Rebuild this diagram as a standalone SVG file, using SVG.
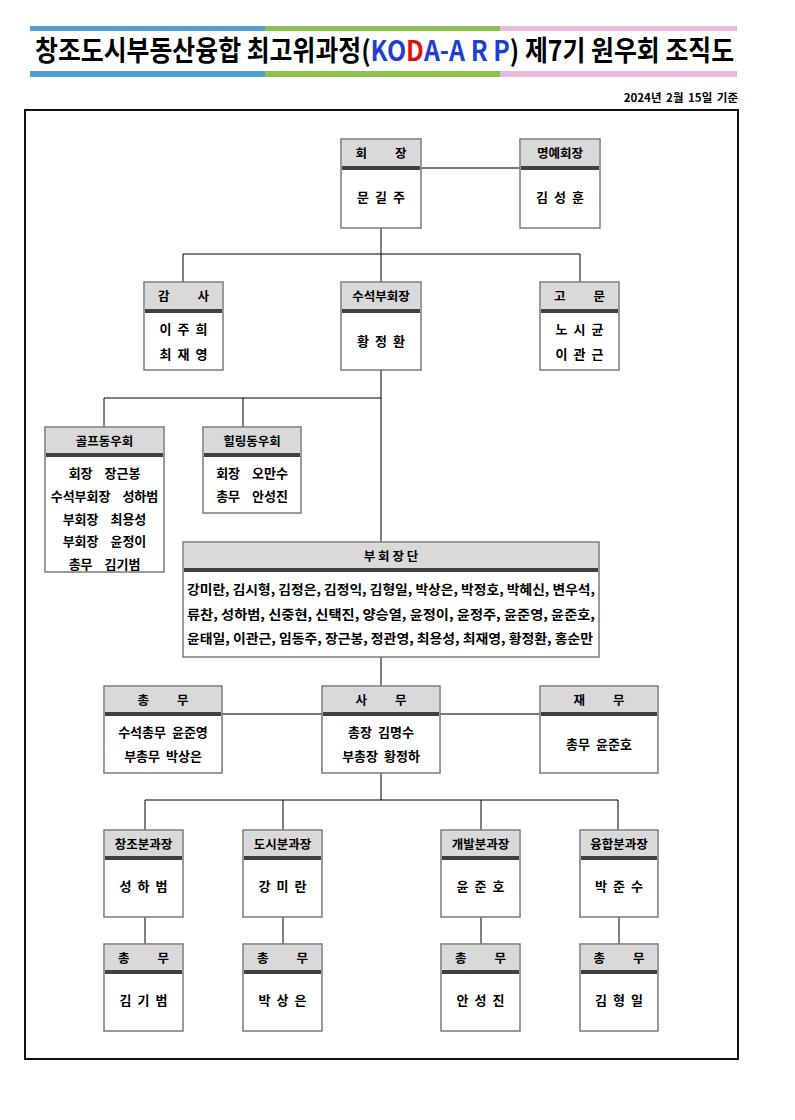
<svg xmlns="http://www.w3.org/2000/svg" width="795" height="1120" viewBox="0 0 795 1120">
<style>
text{font-family:"Noto Sans CJK KR","Noto Sans",sans-serif;font-weight:700;fill:#000}
.hd{fill:#d9d9d9;stroke:none}
.band{fill:#404040}
.box{fill:#fff;stroke:#7a7a7a;stroke-width:1.5}
.ht{font-size:12.5px;text-anchor:middle}
.bt{font-size:13px;text-anchor:middle;word-spacing:3px}
.c{stroke:#000;stroke-width:1;fill:none}
.cg{stroke:#7a7a7a;stroke-width:2;fill:none}
.bl{fill:#1f3fd0}
.rd{fill:#e01010}
</style>
<rect width="795" height="1120" fill="#fff"/>
<g id="title">
<rect x="30" y="26" width="235" height="5" fill="#4f9fd6"/>
<rect x="265" y="26" width="235" height="5" fill="#8cc152"/>
<rect x="500" y="26" width="237" height="5" fill="#e8b9dc"/>
<rect x="30" y="71" width="235" height="6" fill="#4f9fd6"/>
<rect x="265" y="71" width="235" height="6" fill="#8cc152"/>
<rect x="500" y="71" width="237" height="6" fill="#e8b9dc"/>
<text transform="translate(35 61) scale(0.889 1)" x="0" y="0" font-size="28">창조도시부동산융합 최고위과정(<tspan class="bl">KO</tspan><tspan class="rd">D</tspan><tspan class="bl">A-A R P</tspan>) 제7기 원우회 조직도</text>
<text x="738" y="102" font-size="11.5" text-anchor="end" word-spacing="2">2024년 2월 15일 기준</text>
</g>
<rect id="frame" x="25" y="110" width="713" height="949" fill="none" stroke="#111" stroke-width="2"/>
<g id="connectors">
<line class="cg" x1="421" y1="168" x2="520" y2="168"/>
<path class="c" d="M381 228V254M183 254H580M183 254V282M381 254V282M580 254V282"/>
<path class="c" d="M381 370V542M104 398H381M104 398V427M243 398V427"/>
<path class="c" d="M381 657V686"/>
<line class="cg" x1="222" y1="714" x2="322" y2="714"/>
<line class="cg" x1="440" y1="714" x2="540" y2="714"/>
<path class="c" d="M381 773V800M145 800H618M145 800V830M283 800V830M481 800V830M618 800V830"/>
<path class="c" d="M145 917V944M283 917V944M481 917V944M619 917V944"/>
</g>
<g id="n-chair">
<rect class="box" x="341" y="139" width="80" height="89"/><rect class="hd" x="342" y="140" width="78" height="26"/><rect class="band" x="342" y="166" width="78" height="4"/>
<text class="ht" x="381" y="158">회　　 장</text><text class="bt" x="381" y="202">문 길 주</text>
</g>
<g id="n-honorary">
<rect class="box" x="520" y="139" width="80" height="89"/><rect class="hd" x="521" y="140" width="78" height="26"/><rect class="band" x="521" y="166" width="78" height="4"/>
<text class="ht" x="560" y="158">명예회장</text><text class="bt" x="560" y="202">김 성 훈</text>
</g>
<g id="n-audit">
<rect class="box" x="144" y="282" width="79" height="88"/><rect class="hd" x="145" y="283" width="77" height="26"/><rect class="band" x="145" y="309" width="77" height="4"/>
<text class="ht" x="183.5" y="301">감　　 사</text><text class="bt" x="183.5" y="334">이 주 희</text><text class="bt" x="183.5" y="359">최 재 영</text>
</g>
<g id="n-svp">
<rect class="box" x="341" y="282" width="80" height="88"/><rect class="hd" x="342" y="283" width="78" height="26"/><rect class="band" x="342" y="309" width="78" height="4"/>
<text class="ht" x="381" y="301">수석부회장</text><text class="bt" x="381" y="346">황 정 환</text>
</g>
<g id="n-advisor">
<rect class="box" x="540" y="282" width="79" height="88"/><rect class="hd" x="541" y="283" width="77" height="26"/><rect class="band" x="541" y="309" width="77" height="4"/>
<text class="ht" x="579.5" y="301">고　　 문</text><text class="bt" x="579.5" y="334">노 시 균</text><text class="bt" x="579.5" y="359">이 관 근</text>
</g>
<g id="n-golf">
<rect class="box" x="45" y="427" width="119" height="145"/><rect class="hd" x="46" y="428" width="117" height="25"/><rect class="band" x="46" y="453" width="117" height="4"/>
<text class="ht" x="104.5" y="446">골프동우회</text>
<text class="bt" x="104.5" y="478" xml:space="preserve">회장  장근봉</text>
<text class="bt" x="104.5" y="501" xml:space="preserve">수석부회장  성하범</text>
<text class="bt" x="104.5" y="524" xml:space="preserve">부회장  최용성</text>
<text class="bt" x="104.5" y="546" xml:space="preserve">부회장  윤정이</text>
<text class="bt" x="104.5" y="569" xml:space="preserve">총무  김기범</text>
</g>
<g id="n-healing">
<rect class="box" x="203" y="427" width="98" height="86"/><rect class="hd" x="204" y="428" width="96" height="25"/><rect class="band" x="204" y="453" width="96" height="4"/>
<text class="ht" x="252" y="446">힐링동우회</text>
<text class="bt" x="252" y="478" xml:space="preserve">회장  오만수</text>
<text class="bt" x="252" y="501" xml:space="preserve">총무  안성진</text>
</g>
<g id="n-vps">
<rect class="box" x="183" y="542" width="416" height="115"/><rect class="hd" x="184" y="543" width="414" height="25"/><rect class="band" x="184" y="568" width="414" height="4"/>
<text class="ht" x="391" y="561">부 회 장 단</text>
<text x="187" y="594" font-size="13" textLength="408" lengthAdjust="spacingAndGlyphs">강미란, 김시형, 김정은, 김정익, 김형일, 박상은, 박정호, 박혜신, 변우석,</text>
<text x="187" y="619" font-size="13" textLength="408" lengthAdjust="spacingAndGlyphs">류찬, 성하범, 신중현, 신택진, 양승열, 윤정이, 윤정주, 윤준영, 윤준호,</text>
<text x="187" y="643" font-size="13" textLength="406" lengthAdjust="spacingAndGlyphs">윤태일, 이관근, 임동주, 장근봉, 정관영, 최용성, 최재영, 황정환, 홍순만</text>
</g>
<g id="n-general">
<rect class="box" x="104" y="686" width="118" height="87"/><rect class="hd" x="105" y="687" width="116" height="25"/><rect class="band" x="105" y="712" width="116" height="4"/>
<text class="ht" x="163" y="705">총　　 무</text><text class="bt" x="163" y="737">수석총무 윤준영</text><text class="bt" x="163" y="761">부총무 박상은</text>
</g>
<g id="n-office">
<rect class="box" x="322" y="686" width="118" height="87"/><rect class="hd" x="323" y="687" width="116" height="25"/><rect class="band" x="323" y="712" width="116" height="4"/>
<text class="ht" x="381" y="705">사　　 무</text><text class="bt" x="381" y="737">총장 김명수</text><text class="bt" x="381" y="761">부총장 황정하</text>
</g>
<g id="n-finance">
<rect class="box" x="540" y="686" width="118" height="87"/><rect class="hd" x="541" y="687" width="116" height="25"/><rect class="band" x="541" y="712" width="116" height="4"/>
<text class="ht" x="599" y="705">재　　 무</text><text class="bt" x="599" y="749">총무 윤준호</text>
</g>
<g id="n-div1">
<rect class="box" x="104" y="830" width="79" height="87"/><rect class="hd" x="105" y="831" width="77" height="25"/><rect class="band" x="105" y="856" width="77" height="4"/>
<text class="ht" x="143.5" y="849">창조분과장</text><text class="bt" x="143.5" y="891">성 하 범</text>
</g>
<g id="n-div2">
<rect class="box" x="243" y="830" width="79" height="87"/><rect class="hd" x="244" y="831" width="77" height="25"/><rect class="band" x="244" y="856" width="77" height="4"/>
<text class="ht" x="282.5" y="849">도시분과장</text><text class="bt" x="282.5" y="891">강 미 란</text>
</g>
<g id="n-div3">
<rect class="box" x="441" y="830" width="79" height="87"/><rect class="hd" x="442" y="831" width="77" height="25"/><rect class="band" x="442" y="856" width="77" height="4"/>
<text class="ht" x="480.5" y="849">개발분과장</text><text class="bt" x="480.5" y="891">윤 준 호</text>
</g>
<g id="n-div4">
<rect class="box" x="580" y="830" width="78" height="87"/><rect class="hd" x="581" y="831" width="76" height="25"/><rect class="band" x="581" y="856" width="76" height="4"/>
<text class="ht" x="619" y="849">융합분과장</text><text class="bt" x="619" y="891">박 준 수</text>
</g>
<g id="n-sec1">
<rect class="box" x="104" y="944" width="79" height="87"/><rect class="hd" x="105" y="945" width="77" height="25"/><rect class="band" x="105" y="970" width="77" height="4"/>
<text class="ht" x="143.5" y="963">총　　 무</text><text class="bt" x="143.5" y="1005">김 기 범</text>
</g>
<g id="n-sec2">
<rect class="box" x="243" y="944" width="79" height="87"/><rect class="hd" x="244" y="945" width="77" height="25"/><rect class="band" x="244" y="970" width="77" height="4"/>
<text class="ht" x="282.5" y="963">총　　 무</text><text class="bt" x="282.5" y="1005">박 상 은</text>
</g>
<g id="n-sec3">
<rect class="box" x="441" y="944" width="79" height="87"/><rect class="hd" x="442" y="945" width="77" height="25"/><rect class="band" x="442" y="970" width="77" height="4"/>
<text class="ht" x="480.5" y="963">총　　 무</text><text class="bt" x="480.5" y="1005">안 성 진</text>
</g>
<g id="n-sec4">
<rect class="box" x="580" y="944" width="78" height="87"/><rect class="hd" x="581" y="945" width="76" height="25"/><rect class="band" x="581" y="970" width="76" height="4"/>
<text class="ht" x="619" y="963">총　　 무</text><text class="bt" x="619" y="1005">김 형 일</text>
</g>
</svg>
